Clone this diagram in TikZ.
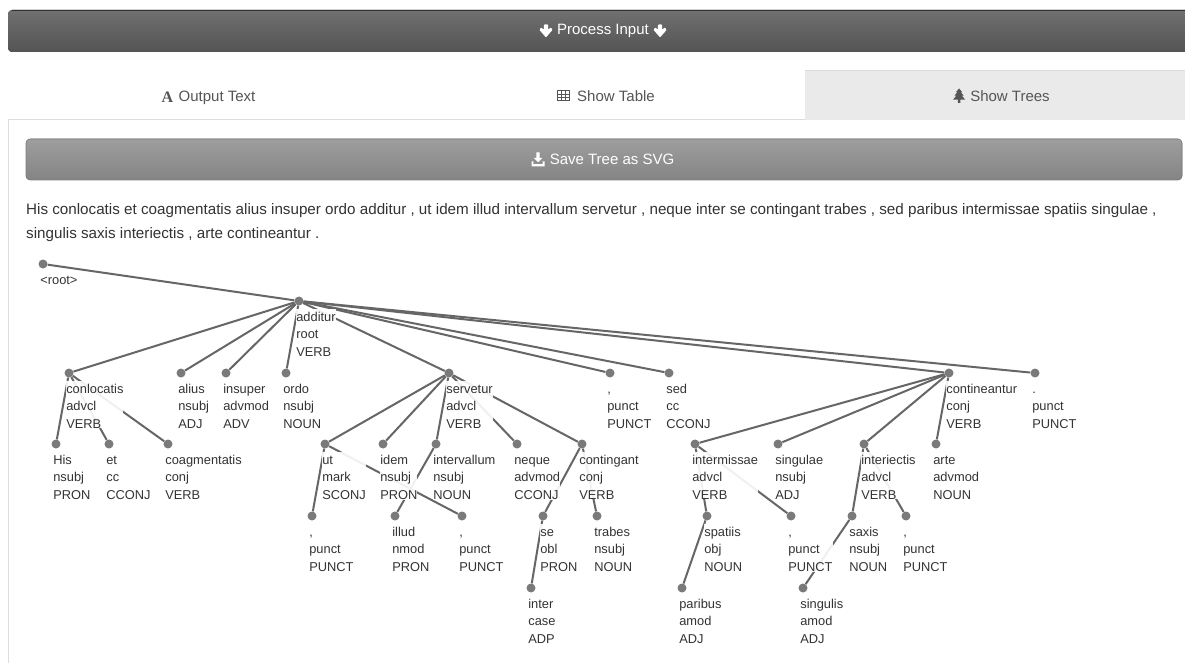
\documentclass[tikz,border=0pt]{standalone}
\usepackage{fontspec}
\setmainfont{Liberation Sans}
\newfontfamily\iconserif{Liberation Serif}
\usepackage{xcolor}
\usetikzlibrary{positioning, calc}
\definecolor{barTop}{RGB}{112,112,112}
\definecolor{barBot}{RGB}{84,84,84}
\definecolor{btnTop}{RGB}{158,158,158}
\definecolor{btnBot}{RGB}{132,132,132}
\definecolor{btnEdge}{RGB}{125,125,125}
\definecolor{tabBg}{RGB}{234,234,234}
\definecolor{ruleGray}{RGB}{221,221,221}
\definecolor{tabText}{RGB}{85,85,85}
\definecolor{bodyText}{RGB}{51,51,51}
\definecolor{edgeGray}{RGB}{102,102,102}
\definecolor{dotGray}{RGB}{122,122,122}
\pgfdeclarelayer{page}
\pgfdeclarelayer{edges}
\pgfsetlayers{page,edges,main}
\tikzset{
  tokdot/.style={circle, fill=dotGray, inner sep=0pt, minimum size=9pt},
  deparc/.style={draw=edgeGray, line width=2pt},
  toklabel/.style={fill=white, fill opacity=0.9, text opacity=1, text=bodyText,
    inner sep=0pt, align=left, font=\fontsize{12.85}{17.5}\selectfont},
  btntext/.style={text=white, inner sep=0pt, font=\fontsize{15}{18}\selectfont},
  tabtext/.style={text=tabText, inner sep=0pt, font=\fontsize{15}{18}\selectfont},
  sentence/.style={text=bodyText, anchor=west, inner sep=0pt, font=\fontsize{15.2}{18}\selectfont},
  dnarrow/.pic={\fill[white, rounded corners=0.8pt] (-2.1,-6.5) -- (2.1,-6.5) -- (2.1,-1.2)
    -- (4.8,-3.6) -- (6.6,-1.2) -- (0,6.4) -- (-6.6,-1.2) -- (-4.8,-3.6) -- (-2.1,-1.2) -- cycle;},
  saveicon/.pic={\fill[white] (-1.6,-7) -- (1.6,-7) -- (1.6,-1.5) -- (4.2,-1.5) -- (0,2.8)
    -- (-4.2,-1.5) -- (-1.6,-1.5) -- cycle;
    \fill[white] (-6.5,1.8) -- (-4.6,1.8) -- (-4.6,4.6) -- (4.6,4.6) -- (4.6,1.8)
    -- (6.5,1.8) -- (6.5,7) -- (-6.5,7) -- cycle;},
  gridicon/.pic={\draw[tabText, line width=1pt] (-6,-5) rectangle (6,5);
    \draw[tabText, line width=0.7pt] (-2,-5) -- (-2,5) (2,-5) -- (2,5)
    (-6,-1.7) -- (6,-1.7) (-6,1.7) -- (6,1.7);},
  treeicon/.pic={\fill[tabText] (0,-7.5) -- (3.2,-3.8) -- (1.8,-3.8) -- (4.6,-0.3)
    -- (2.8,-0.3) -- (6,3.6) -- (1.3,3.6) -- (1.3,7) -- (-1.3,7) -- (-1.3,3.6)
    -- (-6,3.6) -- (-2.8,-0.3) -- (-4.6,-0.3) -- (-1.8,-3.8) -- (-3.2,-3.8) -- cycle;}
}

\begin{document}
\begin{tikzpicture}[x=1pt, y=-1pt]
    \useasboundingbox (0,0) rectangle (1185,663);
    \begin{pgfonlayer}{page}
    \fill[white] (0,0) rectangle (1185,663);
    \end{pgfonlayer}
    \clip (0,0) rectangle (1185,663);
    % Process bar
    \fill[rounded corners=4pt, top color=barTop, bottom color=barBot] (8,10) rectangle (1200,52);
    \draw[barBot!60!black, line width=0.6pt] (12,10.3) -- (1200,10.3);
    \node[btntext] (procin) at (603,31) {Process Input};
    \path (procin.west) ++(-11,0) pic {dnarrow};
    \path (procin.east) ++(11,0) pic {dnarrow};
    % Tabs
    \fill[tabBg] (805,70) rectangle (1200,120);
    \draw[ruleGray] (805,70) -- (1200,70);
    \draw[ruleGray, line width=1pt] (8,120) -- (805,120);
    \draw[ruleGray, line width=1pt] (8,120) -- (8,670);
    \node[tabtext] (outtext) at (217,97.5) {Output Text};
    \node[text=tabText, inner sep=0pt, font=\iconserif\bfseries\fontsize{16}{18}\selectfont,
        left=5pt of outtext] (aicon) {A};
    \node[tabtext] (showtable) at (616,96) {Show Table};
    \path (showtable.west) ++(-13.5,0) pic {gridicon};
    \node[tabtext] (showtrees) at (1010,96) {Show Trees};
    \path (showtrees.west) ++(-11,0) pic {treeicon};
    % Save button
    \fill[rounded corners=4pt, top color=btnTop, bottom color=btnBot] (26,139) rectangle (1182,180);
    \draw[rounded corners=4pt, btnEdge, line width=0.6pt] (26,139) rectangle (1182,180);
    \node[btntext] (savesvg) at (612,159.5) {Save Tree as SVG};
    \path (savesvg.west) ++(-11.5,0) pic {saveicon};
    % Sentence
    \node[sentence] (line1) at (26,211) {His conlocatis et coagmentatis alius insuper ordo additur , ut idem illud intervallum servetur , neque inter se contingant trabes , sed paribus intermissae spatiis singulae ,};
    \node[sentence] (line2) at (26,235) {singulis saxis interiectis , arte contineantur .};
    % Tree
    \node[tokdot] (root) at (43,264) {};
    \node[toklabel, below right=4.6pt and -6.2pt of root] {\strut\textless root\textgreater};
    \foreach \name/\x/\y/\word/\rel/\pos in {
        additur/299/301/additur/root/VERB,
        conlocatis/69/373/conlocatis/advcl/VERB,
        alius/181/373/alius/nsubj/ADJ,
        insuper/226/373/insuper/advmod/ADV,
        ordo/286/373/ordo/nsubj/NOUN,
        servetur/449/373/servetur/advcl/VERB,
        pa/610/373/{,}/punct/PUNCT,
        sed/669/373/sed/cc/CCONJ,
        contineantur/949/373/contineantur/conj/VERB,
        pf/1035/373/{.}/punct/PUNCT,
        His/56/444/His/nsubj/PRON,
        et/109/444/et/cc/CCONJ,
        coagmentatis/168/444/coagmentatis/conj/VERB,
        ut/325/444/ut/mark/SCONJ,
        idem/383/444/idem/nsubj/PRON,
        intervallum/436/444/intervallum/nsubj/NOUN,
        neque/517/444/neque/advmod/CCONJ,
        contingant/582/444/contingant/conj/VERB,
        intermissae/695/444/intermissae/advcl/VERB,
        singulae/778/444/singulae/nsubj/ADJ,
        interiectis/864/444/interiectis/advcl/VERB,
        arte/936/444/arte/advmod/NOUN,
        pb/312/516/{,}/punct/PUNCT,
        illud/395/516/illud/nmod/PRON,
        pc/462/516/{,}/punct/PUNCT,
        se/543/516/se/obl/PRON,
        trabes/597/516/trabes/nsubj/NOUN,
        spatiis/707/516/spatiis/obj/NOUN,
        pd/791/516/{,}/punct/PUNCT,
        saxis/852/516/saxis/nsubj/NOUN,
        pe/906/516/{,}/punct/PUNCT,
        inter/531/588/inter/case/ADP,
        paribus/682/588/paribus/amod/ADJ,
        singulis/803/588/singulis/amod/ADJ}{
        \node[tokdot] (\name) at (\x,\y) {};
        \node[toklabel, below right=4.6pt and -6.2pt of \name] {\strut\word\\\rel\\\pos};
    }
    % Arcs
    \begin{pgfonlayer}{edges}
    \foreach \a/\b in {root/additur, additur/conlocatis, additur/alius, additur/insuper,
        additur/ordo, additur/servetur, additur/pa, additur/sed, additur/contineantur,
        additur/pf, conlocatis/His, conlocatis/et, conlocatis/coagmentatis,
        servetur/ut, servetur/idem, servetur/intervallum, servetur/neque,
        servetur/contingant, ut/pb, ut/pc, intervallum/illud, contingant/se,
        contingant/trabes, se/inter, contineantur/intermissae, contineantur/singulae,
        contineantur/interiectis, contineantur/arte, intermissae/spatiis,
        intermissae/pd, spatiis/paribus, interiectis/saxis, interiectis/pe,
        saxis/singulis}
        \draw[deparc] (\a) -- (\b);
    \end{pgfonlayer}
\end{tikzpicture}
\end{document}
